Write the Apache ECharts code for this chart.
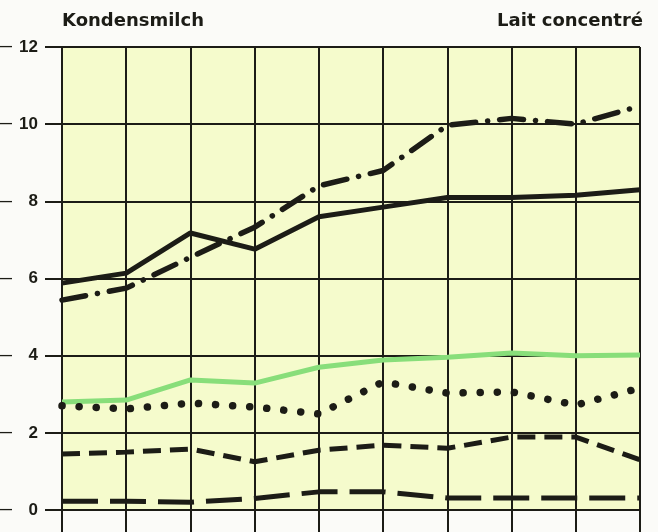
<!DOCTYPE html>
<html>
<head>
<meta charset="utf-8">
<script src="https://cdn.jsdelivr.net/npm/echarts@6/dist/echarts.min.js"></script>
<style>html,body{margin:0;padding:0;background:#fbfbf8;}#c{width:658px;height:532px;}</style>
</head>
<body>
<div id="c"></div>
<script>
const categories = ['1','2','3','4','5','6','7','8','9','10'];
const yTicks = [0, 2, 4, 6, 8, 10, 12];
const solidSeries   = [5.88, 6.14, 7.18, 6.76, 7.6, 7.85, 8.1, 8.1, 8.16, 8.3];
const dashDotSeries = [5.44, 5.75, 6.55, 7.33, 8.4, 8.8, 9.97, 10.15, 10.0, 10.47];
const greenSeries   = [2.8, 2.85, 3.37, 3.29, 3.7, 3.89, 3.96, 4.07, 4.0, 4.02];
const dottedSeries  = [2.7, 2.62, 2.77, 2.67, 2.49, 3.32, 3.03, 3.06, 2.72, 3.16];
const dashedSeries  = [1.45, 1.5, 1.58, 1.25, 1.55, 1.68, 1.6, 1.89, 1.89, 1.3];
const lowDashSeries = [0.23, 0.23, 0.2, 0.3, 0.47, 0.47, 0.31, 0.31, 0.31, 0.31];
const titleLeft = 'Kondensmilch';
const titleRight = 'Lait concentré';

const ink = '#1c1c16';
const chart = echarts.init(document.getElementById('c'), null, {renderer: 'canvas'});
const font = '"DejaVu Sans", sans-serif';
const numFont = '"Liberation Sans", Arial, sans-serif';
function line(name, data, style, color) {
  return {
    name, type: 'line', data, showSymbol: false, symbol: 'none', smooth: false,
    lineStyle: Object.assign({color: color || ink, width: 5}, style),
    z: 3
  };
}
chart.setOption({
  animation: false,
  backgroundColor: '#fbfbf8',
  title: [
    {text: titleLeft, left: 62, top: 12, padding: 0, textStyle: {fontFamily: font, fontWeight: 'bold', fontSize: 18, color: ink}},
    {text: titleRight, right: 15, top: 12, padding: 0, textStyle: {fontFamily: font, fontWeight: 'bold', fontSize: 18, color: ink}}
  ],
  grid: {left: 62, right: 18, top: 47, bottom: 22, show: true, backgroundColor: '#f5fbcc', borderWidth: 0, outerBoundsMode: 'none', containLabel: false},
  xAxis: {
    type: 'category', data: categories, boundaryGap: false,
    axisLine: {show: false},
    axisTick: {show: true, length: 24, inside: false, lineStyle: {color: ink, width: 2}},
    axisLabel: {show: false},
    splitLine: {show: true, lineStyle: {color: ink, width: 2}}
  },
  yAxis: {
    type: 'value', min: yTicks[0], max: yTicks[yTicks.length - 1], interval: 2,
    axisLine: {show: false},
    axisTick: {show: true, length: 17, lineStyle: {color: ink, width: 2}},
    splitLine: {show: true, lineStyle: {color: ink, width: 2}},
    axisLabel: {
      margin: 24,
      formatter: v => '{d|—}{n|' + v + '}',
      rich: {
        d: {width: 18, align: 'left', fontFamily: numFont, fontWeight: 'bold', fontSize: 12, color: ink},
        n: {width: 20, align: 'right', fontFamily: numFont, fontWeight: 'bold', fontSize: 17, color: ink}
      }
    }
  },
  series: [
    line('green', greenSeries, {width: 5}, '#88de7a'),
    line('solid', solidSeries, {width: 5}),
    line('dashdot', dashDotSeries, {type: [24, 12, 0.1, 12], cap: 'round', width: 5.5}),
    line('dotted', dottedSeries, {type: [0.1, 17], cap: 'round', width: 7.5}),
    line('dashed', dashedSeries, {type: [18, 9], width: 5}),
    line('lowdash', lowDashSeries, {type: [36, 12], width: 5})
  ]
});
</script>
</body>
</html>
